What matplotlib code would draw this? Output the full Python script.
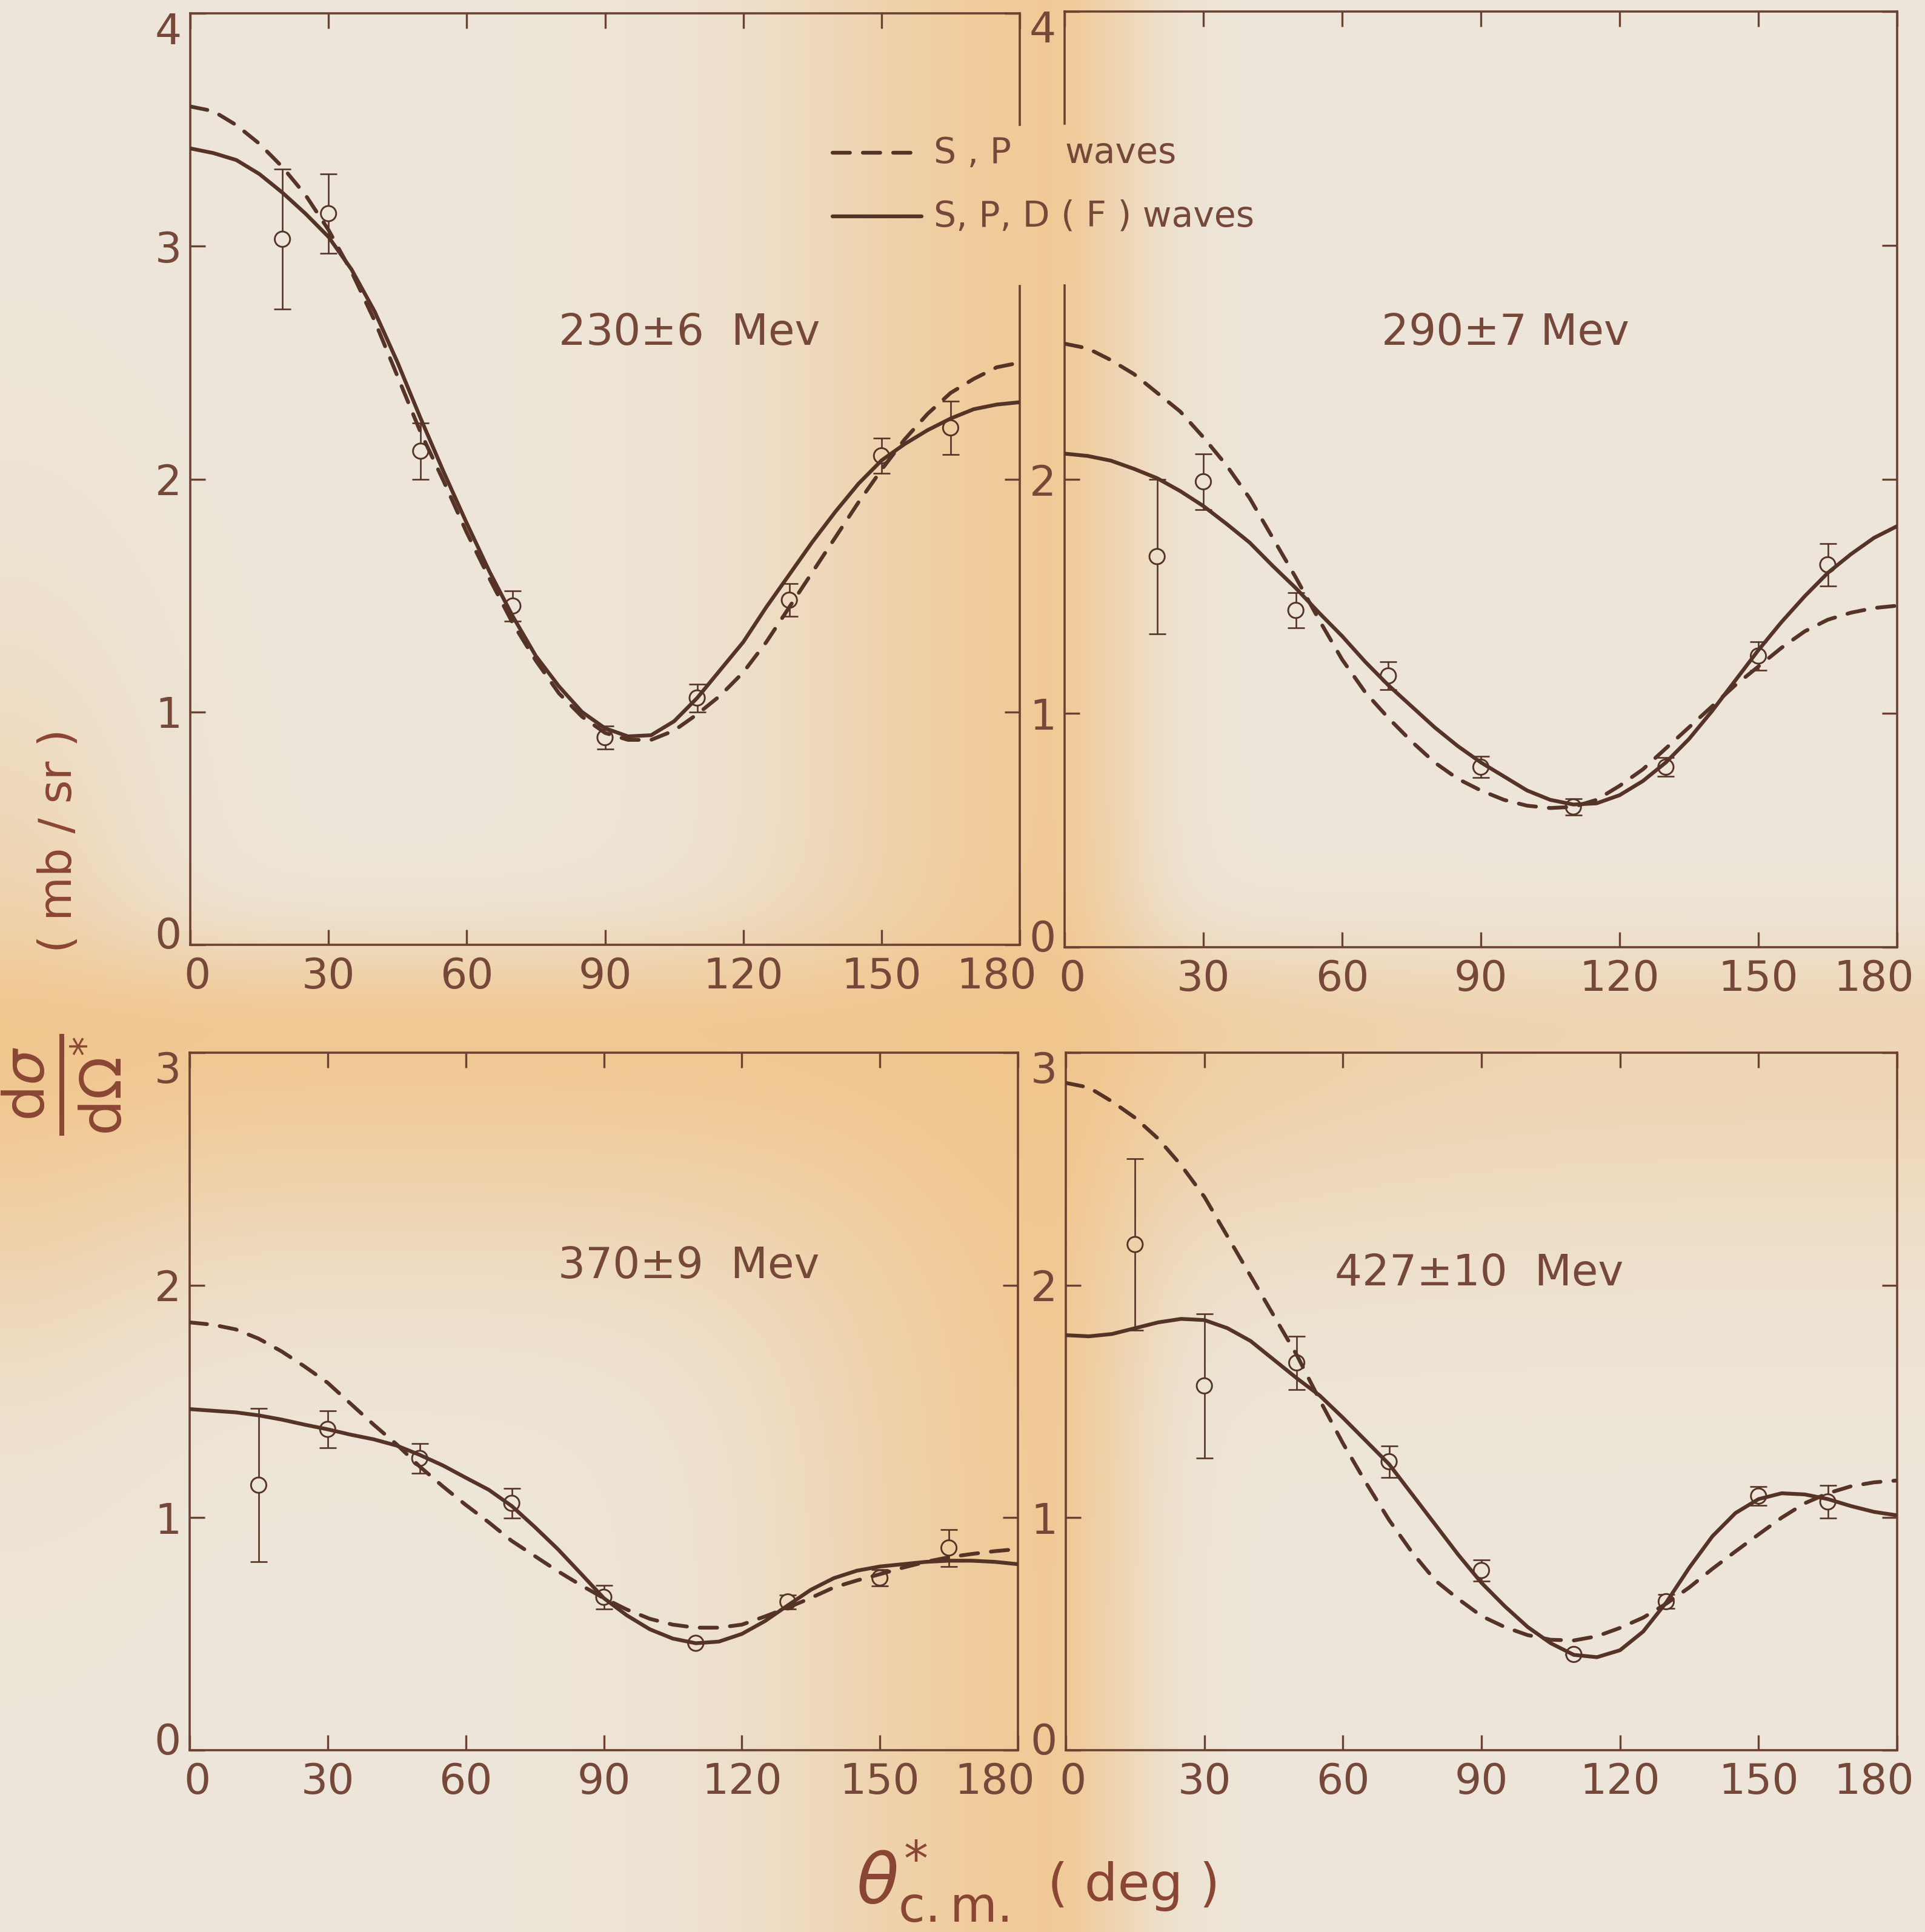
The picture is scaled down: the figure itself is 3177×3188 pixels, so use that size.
"""
Pion photoproduction angular distributions at four photon energies,
drawn as a 2x2 panel figure on aged paper.
"""

import numpy as np
import matplotlib
matplotlib.use("Agg")
import matplotlib.pyplot as plt
from matplotlib.lines import Line2D
from matplotlib.transforms import ScaledTranslation

W, H = 3177, 3188
DPI = 100

# ── inks ──────────────────────────────────────────────────────────────────────
INK = "#553427"       # curves, points
SPINE = "#6b4232"
TICKLBL = "#76483a"
AXLBL = "#8a4634"
PAPER = np.array([237, 230, 218]) / 255.0
STAIN = np.array([241, 197, 140]) / 255.0

# ── data ──────────────────────────────────────────────────────────────────────
THETA = [0, 5, 10, 15, 20, 25, 30, 35, 40, 45, 50, 55, 60, 65, 70, 75, 80, 85,
         90, 95, 100, 105, 110, 115, 120, 125, 130, 135, 140, 145, 150, 155,
         160, 165, 170, 175, 180]

# 230 +- 6 MeV
SP_230 = [3.60, 3.58, 3.52, 3.44, 3.34, 3.22, 3.07, 2.89, 2.68, 2.44, 2.20,
          1.99, 1.77, 1.57, 1.38, 1.22, 1.08, 0.98, 0.91, 0.88, 0.88, 0.92,
          0.99, 1.07, 1.17, 1.30, 1.45, 1.60, 1.75, 1.90, 2.04, 2.17, 2.28,
          2.37, 2.43, 2.48, 2.50]
SPD_230 = [3.42, 3.40, 3.37, 3.31, 3.23, 3.14, 3.04, 2.90, 2.72, 2.50, 2.26,
           2.03, 1.81, 1.60, 1.41, 1.24, 1.11, 1.00, 0.93, 0.895, 0.90, 0.96,
           1.06, 1.18, 1.30, 1.45, 1.59, 1.73, 1.86, 1.98, 2.08, 2.15, 2.21,
           2.26, 2.30, 2.32, 2.33]
ANG_230 = [20, 30, 50, 70, 90, 110, 130, 150, 165]
DSIG_230 = [3.03, 3.14, 2.12, 1.455, 0.89, 1.06, 1.48, 2.10, 2.22]
ERR_230 = [0.30, 0.17, 0.12, 0.065, 0.05, 0.06, 0.07, 0.075, 0.115]

# 290 +- 7 MeV
SP_290 = [2.58, 2.56, 2.51, 2.45, 2.37, 2.29, 2.18, 2.06, 1.92, 1.75, 1.58,
          1.40, 1.23, 1.09, 0.98, 0.88, 0.79, 0.72, 0.67, 0.63, 0.605, 0.595,
          0.60, 0.63, 0.69, 0.76, 0.85, 0.94, 1.03, 1.12, 1.20, 1.28, 1.35,
          1.40, 1.43, 1.45, 1.46]
SPD_290 = [2.11, 2.10, 2.08, 2.045, 2.005, 1.95, 1.886, 1.81, 1.73, 1.63,
           1.535, 1.43, 1.33, 1.22, 1.12, 1.03, 0.94, 0.86, 0.79, 0.73, 0.67,
           0.63, 0.61, 0.615, 0.65, 0.71, 0.79, 0.89, 1.01, 1.14, 1.27, 1.39,
           1.50, 1.60, 1.68, 1.75, 1.80]
ANG_290 = [20, 30, 50, 70, 90, 110, 130, 150, 165]
DSIG_290 = [1.67, 1.99, 1.44, 1.16, 0.77, 0.60, 0.77, 1.245, 1.635]
ERR_290 = [0.33, 0.12, 0.075, 0.06, 0.045, 0.035, 0.04, 0.06, 0.09]

# 370 +- 9 MeV
SP_370 = [1.84, 1.83, 1.81, 1.77, 1.715, 1.65, 1.58, 1.49, 1.40, 1.315, 1.22,
          1.135, 1.055, 0.98, 0.90, 0.835, 0.77, 0.71, 0.654, 0.605, 0.565,
          0.54, 0.527, 0.527, 0.54, 0.575, 0.613, 0.655, 0.70, 0.73, 0.757,
          0.785, 0.81, 0.83, 0.844, 0.856, 0.865]
SPD_370 = [1.467, 1.46, 1.453, 1.44, 1.422, 1.40, 1.38, 1.357, 1.337, 1.31,
           1.27, 1.225, 1.172, 1.12, 1.05, 0.96, 0.865, 0.76, 0.654, 0.58,
           0.52, 0.48, 0.46, 0.467, 0.50, 0.555, 0.623, 0.69, 0.74, 0.772,
           0.79, 0.80, 0.81, 0.815, 0.815, 0.81, 0.80]
ANG_370 = [15, 30, 50, 70, 90, 110, 130, 150, 165]
DSIG_370 = [1.14, 1.38, 1.255, 1.062, 0.658, 0.46, 0.638, 0.741, 0.87]
ERR_370 = [0.33, 0.08, 0.065, 0.063, 0.05, 0.0, 0.03, 0.035, 0.08]

# 427 +- 10 MeV
SP_427 = [2.87, 2.85, 2.79, 2.72, 2.63, 2.515, 2.38, 2.21, 2.04, 1.87, 1.70,
          1.505, 1.32, 1.15, 0.99, 0.85, 0.73, 0.65, 0.577, 0.53, 0.495,
          0.475, 0.472, 0.49, 0.526, 0.57, 0.63, 0.70, 0.78, 0.855, 0.928,
          1.00, 1.062, 1.105, 1.135, 1.152, 1.16]
SPD_427 = [1.785, 1.78, 1.79, 1.815, 1.84, 1.855, 1.85, 1.815, 1.76, 1.68,
           1.60, 1.525, 1.43, 1.33, 1.23, 1.10, 0.97, 0.84, 0.72, 0.62, 0.53,
           0.46, 0.41, 0.40, 0.43, 0.51, 0.635, 0.785, 0.92, 1.02, 1.08,
           1.105, 1.10, 1.08, 1.05, 1.025, 1.01]
ANG_427 = [15, 30, 50, 70, 90, 110, 130, 150, 165]
DSIG_427 = [2.175, 1.567, 1.666, 1.241, 0.773, 0.412, 0.639, 1.093, 1.068]
ERR_427 = [0.37, 0.31, 0.115, 0.067, 0.045, 0.0, 0.03, 0.04, 0.07]

X_TICKS = [0, 30, 60, 90, 120, 150, 180]
ENERGY_LABELS = ["230±6  Mev", "290±7 Mev", "370±9  Mev", "427±10  Mev"]

# ── layout (pixel boxes: left, top, right, bottom) ───────────────────────────
BOXES = [(314, 22, 1683, 1559), (1757, 19, 3131, 1563),
         (313, 1737, 1680, 2888), (1759, 1737, 3131, 2888)]
LABEL_XY = [(1138, 549), (2484, 549), (1137, 2090), (2441, 2102)]
GAP = (2.83, 3.52)   # break in the inner spines behind the key

FS_TICK = 50
LW_CURVE = 4.5
DASH = (4.6, 3.4)


def paper_background():
    """Cream sheet with the orange fold stains down the middle and across."""
    x = np.arange(W, dtype=np.float32)
    y = np.arange(H, dtype=np.float32)
    sx = np.where(x < 1730, 430.0, 160.0)
    vx = np.exp(-((x - 1730) / sx) ** 2)
    sy = np.where(y < 1700, 150.0, 380.0)
    hy = np.exp(-((y - 1700) / sy) ** 2)
    wx = 1 - 0.45 / (1 + np.exp(-(x - 2000) / 200))
    lx = np.exp(-(x / 260) ** 2)
    ly = np.exp(-((y - 1650) / 600) ** 2)
    keep = ((1 - 0.85 * vx)[None, :]
            * (1 - 0.9 * hy[:, None] * wx[None, :])
            * (1 - 0.55 * ly[:, None] * lx[None, :]))
    s = 1 - keep
    img = np.empty((H, W, 3), dtype=np.uint8)
    for c in range(3):
        img[..., c] = np.clip((PAPER[c] + (STAIN[c] - PAPER[c]) * s) * 255,
                              0, 255).astype(np.uint8)
    return img


def px_offset(fig, dx, dy):
    return ScaledTranslation(dx / DPI, dy / DPI, fig.dpi_scale_trans)


def style_axes(fig, ax, ymax):
    ax.set_xlim(0, 180)
    ax.set_ylim(0, ymax)
    ax.set_facecolor("none")
    ax.set_xticks(X_TICKS)
    ax.set_xticklabels([str(t) for t in X_TICKS])
    ax.set_yticks(list(range(ymax + 1)))
    ax.set_yticklabels([str(t) for t in range(ymax + 1)])
    ax.tick_params(direction="in", length=18, width=2.4, color=SPINE,
                   top=True, right=True, labelsize=FS_TICK,
                   labelcolor=TICKLBL)
    ax.tick_params(axis="x", pad=14)
    ax.tick_params(axis="y", pad=10)
    for sp in ax.spines.values():
        sp.set_color(SPINE)
        sp.set_linewidth(2.6)

    # nudge the end labels inward, as lettered on the sheet
    xl = ax.get_xticklabels()
    xl[0].set_transform(xl[0].get_transform() + px_offset(fig, 12, 0))
    xl[-1].set_transform(xl[-1].get_transform() + px_offset(fig, -38, 0))
    yl = ax.get_yticklabels()
    yl[0].set_transform(yl[0].get_transform() + px_offset(fig, 0, 20))
    yl[-1].set_transform(yl[-1].get_transform() + px_offset(fig, 0, -24))


def break_spine(ax, side):
    """Inner spine interrupted where the key text runs across."""
    ax.spines[side].set_bounds(0, GAP[0])
    xpos = 180 if side == "right" else 0
    ax.plot([xpos, xpos], [GAP[1], ax.get_ylim()[1]], color=SPINE, lw=2.6,
            clip_on=False, solid_capstyle="projecting", zorder=5)
    for loc, tick in zip(ax.get_yticks(), ax.yaxis.get_major_ticks()):
        if GAP[0] < loc < GAP[1]:
            if side == "right":
                tick.tick2line.set_visible(False)
            else:
                tick.tick1line.set_visible(False)
                tick.label1.set_visible(False)


def draw_panel(ax, bg, sp, spd, ang, dsig, err):
    ax.plot(THETA, sp, color=INK, lw=LW_CURVE, dashes=DASH,
            dash_capstyle="round", zorder=4)
    ax.plot(THETA, spd, color=INK, lw=LW_CURVE, solid_capstyle="round",
            zorder=4)
    ax.errorbar(ang, dsig, yerr=err, fmt="none", ecolor=INK, elinewidth=1.9,
                capsize=10, capthick=1.9, zorder=2)
    # open circles filled with the paper colour underneath them
    faces = []
    for a, v in zip(ang, dsig):
        px, py = ax.transData.transform((a, v))
        row = min(max(int(round(H - py)), 0), H - 1)
        col = min(max(int(round(px)), 0), W - 1)
        faces.append(bg[row, col] / 255.0)
    ax.scatter(ang, dsig, s=330, facecolors=faces, edgecolors=INK,
               linewidths=2.1, zorder=3)


def main():
    plt.rcParams["font.family"] = ["DejaVu Sans"]
    plt.rcParams["mathtext.fontset"] = "dejavusans"

    fig = plt.figure(figsize=(W / DPI, H / DPI), dpi=DPI)
    bg = paper_background()
    fig.figimage(bg, xo=0, yo=0, origin="upper", zorder=-5)

    series = [(SP_230, SPD_230, ANG_230, DSIG_230, ERR_230, 4),
              (SP_290, SPD_290, ANG_290, DSIG_290, ERR_290, 4),
              (SP_370, SPD_370, ANG_370, DSIG_370, ERR_370, 3),
              (SP_427, SPD_427, ANG_427, DSIG_427, ERR_427, 3)]

    axes = []
    for box, (sp, spd, ang, dsig, err, ymax) in zip(BOXES, series):
        l, t, r, b = box
        ax = fig.add_axes([l / W, 1 - b / H, (r - l) / W, (b - t) / H])
        style_axes(fig, ax, ymax)
        draw_panel(ax, bg, sp, spd, ang, dsig, err)
        axes.append(ax)

    break_spine(axes[0], "right")
    break_spine(axes[1], "left")

    for (x, y), txt in zip(LABEL_XY, ENERGY_LABELS):
        fig.text(x / W, 1 - y / H, txt, ha="center", va="center",
                 fontsize=51, color=TICKLBL)

    # key
    y1, y2 = 1 - 252 / H, 1 - 357 / H
    fig.add_artist(Line2D([1374 / W, 1521 / W], [y1, y1], color=INK,
                          lw=LW_CURVE, dashes=DASH, dash_capstyle="round"))
    fig.add_artist(Line2D([1374 / W, 1521 / W], [y2, y2], color=INK,
                          lw=LW_CURVE, solid_capstyle="round"))
    fig.text(1541 / W, y1, "S , P", ha="left", va="center", fontsize=42,
             color=TICKLBL)
    fig.text(1758 / W, y1, "waves", ha="left", va="center", fontsize=42,
             color=TICKLBL)
    fig.text(1541 / W, y2, "S, P, D ( F ) waves", ha="left", va="center",
             fontsize=42, color=TICKLBL)

    # axis titles
    fig.text(102 / W, 1 - 1790 / H,
             r"$\frac{\mathrm{d}\sigma}{\mathrm{d}\Omega^{*}}$",
             rotation=90, ha="center", va="center", fontsize=96,
             color=AXLBL)
    fig.text(98 / W, 1 - 1387 / H, "( mb / sr )", rotation=90,
             ha="center", va="center", fontsize=54, color=AXLBL)
    fig.text(1538 / W, 1 - 3105 / H, r"$\theta^{*}_{\mathrm{c.m.}}$",
             ha="center", va="center", fontsize=82, color=AXLBL)
    fig.text(1871 / W, 1 - 3113 / H, "( deg )", ha="center", va="center",
             fontsize=62, color=AXLBL)

    fig.savefig("out.png", dpi=DPI)


if __name__ == "__main__":
    main()
